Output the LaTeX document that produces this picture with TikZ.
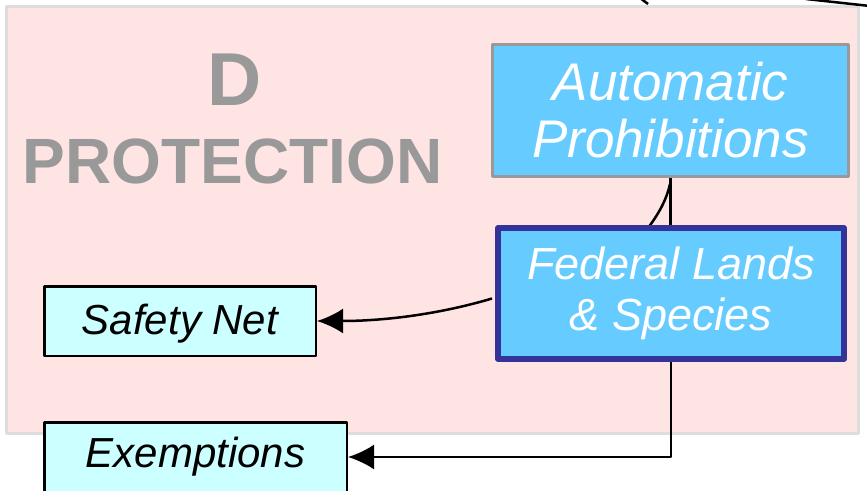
\documentclass[tikz,border=0pt]{standalone}
\usepackage{fontspec}
\setmainfont{Liberation Sans}
\usetikzlibrary{arrows.meta,calc}
\definecolor{pinkbg}{HTML}{FFE4E4}
\definecolor{pinkline}{HTML}{DDDDDD}
\definecolor{skyblue}{HTML}{66CCFF}
\definecolor{lightcyan}{HTML}{CCFFFF}
\definecolor{titlegray}{HTML}{999999}
\definecolor{navyline}{HTML}{333399}
\begin{document}
\begin{tikzpicture}[x=1pt,y=-1pt, line join=round,
	bigbox/.style={draw, fill=skyblue, text=white, inner sep=0pt, align=center},
	smallbox/.style={draw=black, line width=2.5pt, fill=lightcyan, inner sep=0pt,
		minimum width=#1, minimum height=69.5pt, font=\fontsize{42}{48}\selectfont\itshape},
	link/.style={line width=2.5pt},
	tip/.style={link, -{Latex[length=26pt,width=25pt]}}]
	\useasboundingbox (0,0) rectangle (867,490);
	% khung nen
	\draw[pinkline, line width=3pt, fill=pinkbg] (6,6) rectangle (858,433);
	\node[anchor=base, text=titlegray, font=\fontsize{75}{80}\selectfont\bfseries] (d) at (235,105) {D};
	\node[anchor=base, text=titlegray, font=\fontsize{64}{70}\selectfont\bfseries] (prot) at (232.5,183) {PROTECTION};
	% duong tu ngoai vao
	\coordinate (ina) at (640,-2); \coordinate (inb) at (648,4);
	\coordinate (inc) at (806,-1); \coordinate (ind) at (870,6);
	\draw[link] (ina)--(inb);
	\draw[link] (inc)--(ind);
	\coordinate (cva) at (648,228); \coordinate (cvb) at (670,184);
	\draw[link] (cva) .. controls (660,212) and (667,198) .. (cvb);
	% cac hop
	\node[bigbox, draw=titlegray, line width=3pt, minimum width=356pt, minimum height=132pt,
		font=\fontsize{53}{57}\selectfont\itshape] (auto) at (670.5,110.5) {Automatic\\Prohibitions};
	\node[bigbox, draw=navyline, line width=6pt, minimum width=346pt, minimum height=131pt,
		font=\fontsize{45}{51}\selectfont\itshape] (fed) at (671,293.5) {Federal Lands\\\& Species};
	\node[smallbox=271.5pt, text depth=4pt] (safety) at (180,321) {Safety Net};
	\node[smallbox=302.5pt] (exempt) at (195.5,457) {Exemptions};
	% mui ten
	\draw[link] (auto.south) -- (auto.south |- fed.north);
	\draw[tip] ($(fed.west)+(-3,5)$) .. controls (440,314) and (385,321) .. (safety.east);
	\draw[tip] (fed.south) |- (exempt.east);
\end{tikzpicture}
\end{document}
